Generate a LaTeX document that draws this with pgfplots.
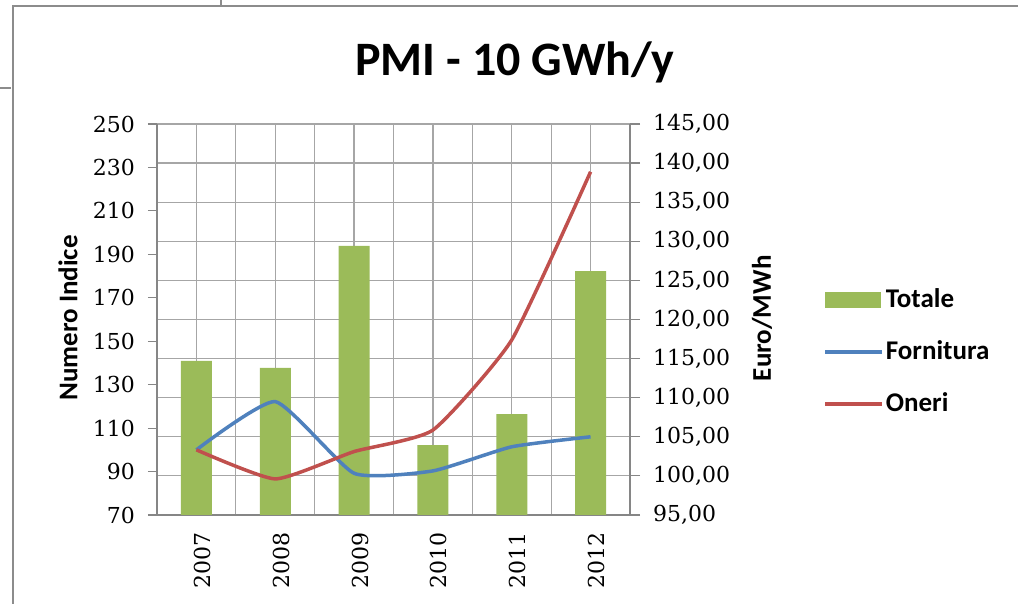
\documentclass[border=0pt]{standalone}
\usepackage{fontspec}
\setmainfont{Carlito}
\newfontfamily\numfont{DejaVu Serif}
\usepackage{pgfplots}
\pgfplotsset{compat=1.18}
\definecolor{totgreen}{HTML}{9BBB59}
\definecolor{fornblue}{HTML}{4F81BD}
\definecolor{onerired}{HTML}{C0504D}
\definecolor{gridgray}{HTML}{A6A6A6}
\definecolor{axgray}{HTML}{868686}
\definecolor{framegray}{HTML}{8C8C8C}
\begin{document}
\begin{tikzpicture}[x=1pt,y=1pt]
\path[use as bounding box] (0,0) rectangle (509,302);
\fill[white] (0,0) rectangle (509,302);
\draw[framegray, line width=0.7pt] (6.5,0) -- (6.5,299) -- (509,299);
\draw[framegray, line width=0.7pt] (0,258) -- (5.5,258);
\draw[framegray, line width=0.7pt] (110.5,299) -- (110.5,302);
% bars, right axis (Euro/MWh)
\begin{axis}[
  at={(78.5pt,44.5pt)}, anchor=south west,
  scale only axis, width=236.5pt, height=195.5pt,
  xmin=-0.5, xmax=5.5, ymin=95, ymax=145,
  axis y line*=right, axis x line*=bottom,
  axis line style={axgray, line width=0.6pt, -},
  xtick={0,...,5}, minor xtick={-0.5,0.5,...,5.5},
  xticklabels={2007,2008,2009,2010,2011,2012},
  xmajorgrids, xminorgrids, ymajorgrids,
  grid style={gridgray, line width=0.6pt},
  minor grid style={gridgray, line width=0.6pt},
  ytick={95,100,...,145},
  tick align=outside, major tick length=5pt,
  ytick style={axgray, line width=0.6pt},
  xtick style={draw=none}, minor x tick style={draw=none},
  yticklabel style={xshift=3pt, /pgf/number format/fixed, /pgf/number format/fixed zerofill, /pgf/number format/precision=2, /pgf/number format/use comma, /pgf/number format/assume math mode=true},
  ticklabel style={font=\numfont\fontsize{11}{12}\selectfont, text=black},
  xticklabel style={rotate=90, anchor=east, yshift=-3pt},
  ylabel={Euro/MWh},
  ylabel style={font=\bfseries\fontsize{13.5}{14}\selectfont, at={(axis description cs:1.279,0.503)}, anchor=center},
  title={PMI - 10 GWh/y},
  title style={font=\bfseries\fontsize{24}{26}\selectfont, at={(axis description cs:0.757,1.125)}, anchor=base, yshift=-6pt},
]
\addplot[ybar, bar width=15.5pt, fill=totgreen, draw=none] coordinates {
  (0,114.7) (1,113.8) (2,129.4) (3,103.95) (4,107.9) (5,126.2)};
\end{axis}
% lines, left axis (Numero Indice)
\begin{axis}[
  at={(78.5pt,44.5pt)}, anchor=south west,
  scale only axis, width=236.5pt, height=195.5pt,
  xmin=-0.5, xmax=5.5, ymin=70, ymax=250,
  axis y line*=left, axis x line=none,
  axis line style={axgray, line width=0.6pt, -},
  ytick={70,90,...,250},
  tick align=outside, major tick length=4.5pt,
  ytick style={axgray, line width=0.6pt},
  yticklabel style={xshift=-3pt, /pgf/number format/assume math mode=true},
  ticklabel style={font=\numfont\fontsize{11}{12}\selectfont, text=black},
  ylabel={Numero Indice},
  ylabel style={font=\bfseries\fontsize{13.5}{14}\selectfont, at={(axis description cs:-0.188,0.504)}, anchor=center},
  legend style={at={(axis description cs:1.408,0.584)}, anchor=north west, draw=none, fill=none,
    inner sep=0pt, row sep=13pt, font=\bfseries\fontsize{13.5}{14}\selectfont,
    nodes={inner sep=1pt}},
  legend cell align=left,
]
\addlegendimage{legend image code/.code={\fill[totgreen] (0pt,-3.75pt) rectangle (27.5pt,3.75pt);}}
\addlegendentry{Totale}
\addplot[fornblue, line width=1.75pt, smooth, tension=0.3,
  legend image code/.code={\draw[fornblue, line width=1.75pt] (0pt,0pt) -- (28.5pt,0pt);}]
  coordinates {(0,100) (1,122.2) (2,89.2) (3,90.3) (4,101.4) (5,106)};
\addlegendentry{Fornitura}
\addplot[onerired, line width=1.75pt, smooth, tension=0.3,
  legend image code/.code={\draw[onerired, line width=1.75pt] (0pt,0pt) -- (28.5pt,0pt);}]
  coordinates {(0,100) (1,86.6) (2,99.2) (3,109.1) (4,150.6) (5,228)};
\addlegendentry{Oneri}
\end{axis}
\end{tikzpicture}
\end{document}
